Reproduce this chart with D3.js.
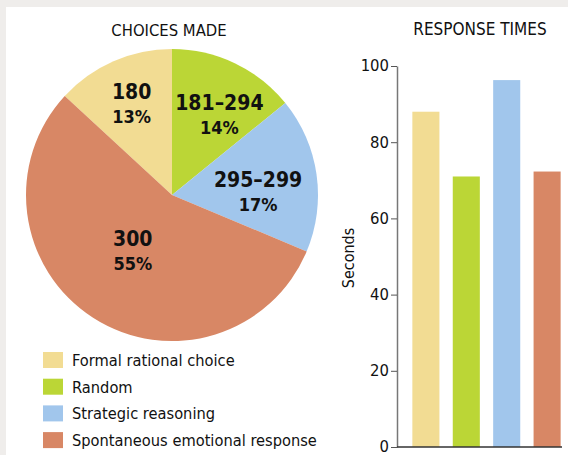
<!DOCTYPE html>
<html>
<head>
<meta charset="utf-8">
<script src="https://cdn.jsdelivr.net/npm/d3@7"></script>
<style>
  body { margin: 0; background: #efedeb; }
  svg { display: block; }
  text { fill: #111; }
</style>
</head>
<body>
<svg id="chart" width="568" height="455"></svg>
<script>
// choices made (pie)
const groups = ["Formal rational choice", "Random", "Strategic reasoning", "Spontaneous emotional response"];
const rangeLabels = ["180", "181–294", "295–299", "300"];
const shares = [13, 14, 17, 55];
const colors = ["#f2dc93", "#bbd636", "#a1c6ec", "#d88765"];

// response times (bars)
const seconds = [88, 71, 96.3, 72.3];
const yTicks = [0, 20, 40, 60, 80, 100];

const svg = d3.select("#chart");

// white panel over the grey photo edge
svg.append("rect").attr("x", 6).attr("y", 7).attr("width", 562).attr("height", 448).attr("fill", "#fff");

const font = "'Liberation Sans Narrow', 'DejaVu Sans Condensed', sans-serif";

// --- pie ---
const cx = 172, cy = 195, r = 146;
const total = d3.sum(shares);
const start = -2 * Math.PI * shares[0] / total;
const pie = d3.pie().sort(null).startAngle(start).endAngle(start + 2 * Math.PI);
const arc = d3.arc().innerRadius(0).outerRadius(r);
const arcs = pie(shares);

const pg = svg.append("g").attr("transform", `translate(${cx},${cy})`);
pg.selectAll("path")
  .data(arcs)
  .join("path")
  .attr("d", arc)
  .attr("fill", (d, i) => colors[i]);

// label spots: radius fraction and small angle nudge (degrees) per slice
const labelR = [0.69, 0.64, 0.59, 0.46];
const labelTurn = [0, 5, 5.5, 3];
const labelPos = arcs.map((d, i) => {
  const a = (d.startAngle + d.endAngle) / 2 + labelTurn[i] * Math.PI / 180;
  return [Math.sin(a) * r * labelR[i], -Math.cos(a) * r * labelR[i]];
});
const lg = pg.selectAll("g.lbl")
  .data(arcs)
  .join("g")
  .attr("class", "lbl")
  .attr("transform", (d, i) => `translate(${labelPos[i][0]},${labelPos[i][1]})`)
  .attr("font-family", font)
  .attr("font-weight", "bold")
  .attr("font-size", 21)
  .attr("text-anchor", "middle");
lg.append("text").attr("y", -4).text((d, i) => rangeLabels[i]);
lg.append("text").attr("y", 20).attr("font-size", 18).text((d, i) => shares[i] + "%");

svg.append("text")
  .attr("x", 169).attr("y", 36)
  .attr("text-anchor", "middle")
  .attr("font-family", font)
  .attr("font-size", 16.5)
  .text("CHOICES MADE");

// legend
const leg = svg.append("g").attr("transform", "translate(43,352)");
const rows = leg.selectAll("g")
  .data(groups)
  .join("g")
  .attr("transform", (d, i) => `translate(0,${i * 26.7})`);
rows.append("rect").attr("width", 20).attr("height", 16).attr("fill", (d, i) => colors[i]);
rows.append("text")
  .attr("x", 29).attr("y", 14)
  .attr("font-family", font)
  .attr("font-size", 16.3)
  .text(d => d);

// --- bars ---
const x = d3.scaleBand().domain(groups).range([397, 576]).paddingInner(0.33).paddingOuter(0.38);
const y = d3.scaleLinear().domain([0, 100]).range([447, 66]);

const bg = svg.append("g");
bg.selectAll("rect")
  .data(groups)
  .join("rect")
  .attr("x", d => x(d))
  .attr("y", (d, i) => y(seconds[i]))
  .attr("width", x.bandwidth())
  .attr("height", (d, i) => y(0) - y(seconds[i]))
  .attr("fill", (d, i) => colors[i]);

const yAxis = svg.append("g")
  .attr("transform", "translate(397,0)")
  .call(d3.axisLeft(y).tickValues(yTicks).tickSize(6).tickPadding(2).tickSizeOuter(0));
yAxis.select(".domain").attr("stroke", "#777").attr("stroke-width", 1.5);
yAxis.selectAll(".tick line").attr("stroke", "#555");
yAxis.selectAll(".tick text")
  .attr("font-family", font)
  .attr("font-size", 16.5)
  .attr("dy", "0.3em")
  .attr("fill", "#111");

// baseline
svg.append("line")
  .attr("x1", 397).attr("x2", 562)
  .attr("y1", y(0)).attr("y2", y(0))
  .attr("stroke", "#333").attr("stroke-width", 1.5);

svg.append("text")
  .attr("transform", `translate(354,258) rotate(-90)`)
  .attr("text-anchor", "middle")
  .attr("font-family", font)
  .attr("font-size", 16)
  .text("Seconds");

svg.append("text")
  .attr("x", 480).attr("y", 35)
  .attr("text-anchor", "middle")
  .attr("font-family", font)
  .attr("font-size", 17)
  .text("RESPONSE TIMES");
</script>
</body>
</html>
